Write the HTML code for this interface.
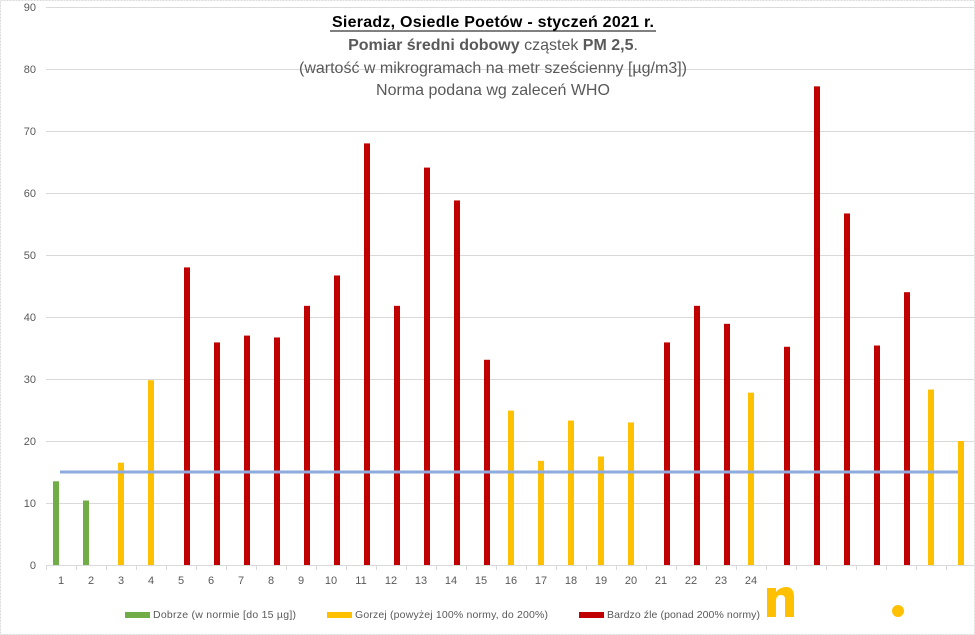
<!DOCTYPE html>
<html><head><meta charset="utf-8"><style>
html,body{margin:0;padding:0;background:#fff;}
svg{display:block;font-family:"Liberation Sans",Calibri,sans-serif;}
</style></head><body>
<svg id="c" width="975" height="635" viewBox="0 0 975 635" xmlns="http://www.w3.org/2000/svg">
<rect x="0.5" y="0.5" width="974" height="634" fill="#fff" stroke="#d9d9d9" stroke-dasharray="2,1"/>
<g id="grid" stroke="#d9d9d9" stroke-width="1"></g>
<g id="ylab" font-size="11" fill="#595959" text-anchor="end"></g>
<g id="bars"></g>
<line x1="60" y1="472" x2="958" y2="472" stroke="#8faadc" stroke-width="3"/>
<g id="xlab" font-size="11" fill="#595959" text-anchor="middle"></g>
<g text-anchor="middle" font-size="16">
<text x="493" y="27" font-weight="bold" fill="#000" textLength="322">Sieradz, Osiedle Poetów - styczeń 2021 r.</text>
<line x1="330" y1="31" x2="656" y2="31" stroke="#000" stroke-width="1"/>
<text x="493" y="50" fill="#595959"><tspan font-weight="bold">Pomiar średni dobowy</tspan> cząstek <tspan font-weight="bold">PM 2,5</tspan>.</text>
<text x="493" y="73" fill="#595959">(wartość w mikrogramach na metr sześcienny [µg/m3])</text>
<text x="493" y="95" fill="#595959">Norma podana wg zaleceń WHO</text>
</g>
<g font-size="10.5" fill="#595959">
<rect x="125" y="612" width="25" height="6" fill="#70ad47"/><text x="153" y="618" textLength="143">Dobrze (w normie [do 15 µg])</text>
<rect x="327" y="612" width="25" height="6" fill="#ffc000"/><text x="355" y="618" textLength="193">Gorzej (powyżej 100% normy, do 200%)</text>
<rect x="579" y="612" width="25" height="6" fill="#c00000"/><text x="607" y="618" textLength="153">Bardzo źle (ponad 200% normy)</text>
</g>
<path d="M767 588 h9 v4 q4-5 10-5 q8 0 8 10 v20 h-9 v-18 q0-4-4-4 q-5 0-5 6 v16 h-9z" fill="#ffc000"/>
<circle cx="898" cy="611" r="6" fill="#ffc000"/>
</svg>
<script>
var NS="http://www.w3.org/2000/svg";
function el(p,t,a,txt){var e=document.createElementNS(NS,t);for(var k in a)e.setAttribute(k,a[k]);if(txt!==undefined)e.textContent=txt;document.getElementById(p).appendChild(e);}
function Y(v){return 565-v*6.2;}
for(var v=0;v<=90;v+=10){el('grid','line',{x1:46,x2:974,y1:Y(v)+0.5,y2:Y(v)+0.5});el('ylab','text',{x:36,y:Y(v)+4},v);}
for(var i=0;i<=31;i++){el('grid','line',{x1:46+30*i+0.5,x2:46+30*i+0.5,y1:565,y2:570});}
for(var i=1;i<=24;i++)el('xlab','text',{x:31+30*i,y:584},i);
var d=[[13.5,'g'],[10.4,'g'],[16.5,'y'],[29.8,'y'],[48,'r'],[35.9,'r'],[37,'r'],[36.7,'r'],[41.8,'r'],[46.7,'r'],[68,'r'],[41.8,'r'],[64.1,'r'],[58.8,'r'],[33.1,'r'],[24.9,'y'],[16.8,'y'],[23.3,'y'],[17.5,'y'],[23,'y'],[35.9,'r'],[41.8,'r'],[38.9,'r'],[27.8,'y'],[35.2,'r'],[77.2,'r'],[56.7,'r'],[35.4,'r'],[44,'r'],[28.3,'y'],[20,'y']];
var col={g:'#70ad47',y:'#ffc000',r:'#c00000'},off={g:-8,y:-3,r:3};
d.forEach(function(b,k){var i=k+1,cx=31+30*i+off[b[1]];el('bars','rect',{x:cx,y:Y(b[0]),width:6,height:b[0]*6.2,fill:col[b[1]]});});
</script>
</body></html>
